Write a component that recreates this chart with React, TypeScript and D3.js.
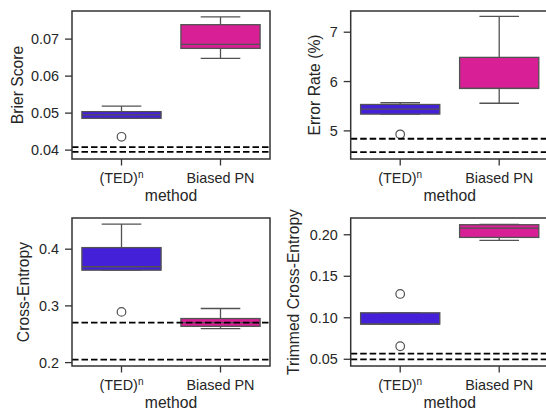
import React from "react";
import * as d3 from "d3";

// categories and colours
const methods = ["(TED)ⁿ", "Biased PN"];
const boxColors = ["#4420d9", "#d81f95"];

// Brier score (box stats per method)
const brierLow = [0.0486, 0.0648];
const brierQ1 = [0.0486, 0.0675];
const brierMed = [0.0495, 0.0686];
const brierQ3 = [0.0504, 0.0739];
const brierHigh = [0.0519, 0.076];
const brierOutliers = [[0.0436], []];
const brierRefs = [0.0408, 0.0395];
const brierTicks = [0.04, 0.05, 0.06, 0.07];

// Error rate (%)
const errLow = [5.34, 5.56];
const errQ1 = [5.34, 5.86];
const errMed = [5.44, 5.86];
const errQ3 = [5.535, 6.49];
const errHigh = [5.57, 7.32];
const errOutliers = [[4.93], []];
const errRefs = [4.84, 4.57];
const errTicks = [5, 6, 7];

// Cross-entropy
const ceLow = [0.363, 0.26];
const ceQ1 = [0.363, 0.264];
const ceMed = [0.369, 0.2706];
const ceQ3 = [0.4028, 0.2777];
const ceHigh = [0.4443, 0.2954];
const ceOutliers = [[0.2894], []];
const ceRefs = [0.2706, 0.2053];
const ceTicks = [0.2, 0.3, 0.4];

// Trimmed cross-entropy
const tceLow = [0.0924, 0.1932];
const tceQ1 = [0.0924, 0.1968];
const tceMed = [0.0924, 0.208];
const tceQ3 = [0.106, 0.2121];
const tceHigh = [0.106, 0.2126];
const tceOutliers = [[0.1287, 0.0657], []];
const tceRefs = [0.0569, 0.05];
const tceTicks = [0.05, 0.1, 0.15, 0.2];

const panels = [
  { label: "Brier Score", low: brierLow, q1: brierQ1, med: brierMed, q3: brierQ3, high: brierHigh, outliers: brierOutliers, refs: brierRefs, ticks: brierTicks, domain: [0.0376, 0.0776], fmt: ".2f" },
  { label: "Error Rate (%)", low: errLow, q1: errQ1, med: errMed, q3: errQ3, high: errHigh, outliers: errOutliers, refs: errRefs, ticks: errTicks, domain: [4.43, 7.43], fmt: "d" },
  { label: "Cross-Entropy", low: ceLow, q1: ceQ1, med: ceMed, q3: ceQ3, high: ceHigh, outliers: ceOutliers, refs: ceRefs, ticks: ceTicks, domain: [0.194, 0.455], fmt: ".1f" },
  { label: "Trimmed Cross-Entropy", low: tceLow, q1: tceQ1, med: tceMed, q3: tceQ3, high: tceHigh, outliers: tceOutliers, refs: tceRefs, ticks: tceTicks, domain: [0.0419, 0.2202], fmt: ".2f" },
];

// layout
const W = 546, H = 410;
const pw = 198, ph = 148;
const layout = [
  { x: 72, y: 11, labelX: 23 },
  { x: 350.7, y: 11, labelX: 320 },
  { x: 72, y: 218, labelX: 29 },
  { x: 350.7, y: 218, labelX: 299 },
];
const axisColor = "#333333";
const lineColor = "#525252";
const textColor = "#262626";
const font = "'Liberation Sans', Arial, sans-serif";

// "(TED)ⁿ" -> base text + raised small n
function TickLabel({ text }: { text: string }) {
  if (!text.endsWith("ⁿ")) return <>{text}</>;
  return (
    <>
      {text.slice(0, -1)}
      <tspan fontSize={10} dy={-5}>n</tspan>
    </>
  );
}

function Panel({ p, l }: any) {
  const x = d3.scaleBand().domain(methods).range([0, pw]).padding(0);
  const y = d3.scaleLinear().domain(p.domain).range([ph, 0]);
  const bw = x.bandwidth() * 0.8;
  const fmt = d3.format(p.fmt);
  return (
    <g transform={`translate(${l.x},${l.y})`}>
      {methods.map((m, i) => {
        const cx = x(m)! + x.bandwidth() / 2;
        return (
          <g key={m}>
            <line x1={cx} x2={cx} y1={y(p.q3[i])} y2={y(p.high[i])} stroke={lineColor} strokeWidth={1.3} />
            <line x1={cx} x2={cx} y1={y(p.q1[i])} y2={y(p.low[i])} stroke={lineColor} strokeWidth={1.3} />
            <line x1={cx - bw / 4} x2={cx + bw / 4} y1={y(p.high[i])} y2={y(p.high[i])} stroke={lineColor} strokeWidth={1.3} />
            <line x1={cx - bw / 4} x2={cx + bw / 4} y1={y(p.low[i])} y2={y(p.low[i])} stroke={lineColor} strokeWidth={1.3} />
            <rect x={cx - bw / 2} width={bw} y={y(p.q3[i])} height={y(p.q1[i]) - y(p.q3[i])} fill={boxColors[i]} stroke={lineColor} strokeWidth={1.3} />
            <line x1={cx - bw / 2} x2={cx + bw / 2} y1={y(p.med[i])} y2={y(p.med[i])} stroke={lineColor} strokeWidth={1.3} />
            {p.outliers[i].map((v: number, k: number) => (
              <circle key={k} cx={cx} cy={y(v)} r={4.3} fill="none" stroke={lineColor} strokeWidth={1.2} />
            ))}
          </g>
        );
      })}
      {p.refs.map((v: number, k: number) => (
        <line key={k} x1={0} x2={pw} y1={y(v)} y2={y(v)} stroke="#000" strokeWidth={1.8} strokeDasharray="6.5,3" />
      ))}
      <rect x={0} y={0} width={pw} height={ph} fill="none" stroke={axisColor} strokeWidth={1.5} />
      {p.ticks.map((t: number) => (
        <g key={t} transform={`translate(0,${y(t)})`}>
          <line x1={-7} x2={0} stroke={axisColor} strokeWidth={1.3} />
          <text x={-13} dy="0.35em" textAnchor="end" fontSize={14.4} fill={textColor}>{fmt(t)}</text>
        </g>
      ))}
      {methods.map((m) => {
        const cx = x(m)! + x.bandwidth() / 2;
        return (
          <g key={m} transform={`translate(${cx},${ph})`}>
            <line y1={0} y2={6.5} stroke={axisColor} strokeWidth={1.3} />
            <text y={24} textAnchor="middle" fontSize={14.4} fill={textColor}><TickLabel text={m} /></text>
          </g>
        );
      })}
      <text x={pw / 2} y={ph + 41.5} textAnchor="middle" fontSize={15.7} fill={textColor}>method</text>
      <text transform={`translate(${l.labelX - l.x},${ph / 2}) rotate(-90)`} textAnchor="middle" fontSize={15.7} fill={textColor}>{p.label}</text>
    </g>
  );
}

export default function App() {
  return (
    <svg width={W} height={H} style={{ position: "absolute", left: 0, top: 0, background: "#fff" }} fontFamily={font}>
      {panels.map((p, i) => (
        <Panel key={i} p={p} l={layout[i]} />
      ))}
    </svg>
  );
}
